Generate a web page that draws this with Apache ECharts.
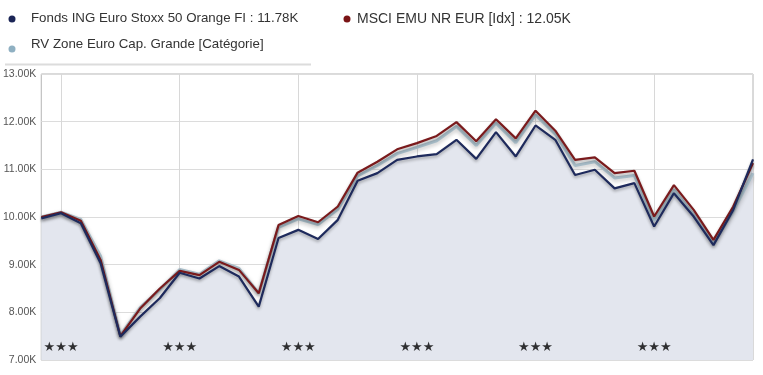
<!DOCTYPE html>
<html><head><meta charset="utf-8">
<script src="https://cdn.jsdelivr.net/npm/echarts@6/dist/echarts.min.js"></script>
<style>html,body{margin:0;padding:0;background:#fff}#c{width:763px;height:375px}</style>
</head><body><div id="c"></div>
<script>
var categories = ['P01','P02','P03','P04','P05','P06','P07','P08','P09','P10','P11','P12','P13','P14','P15','P16','P17','P18','P19','P20','P21','P22','P23','P24','P25','P26','P27','P28','P29','P30','P31','P32','P33','P34','P35','P36','P37'];
var fundValues = [9.97,10.08,9.87,9.03,7.49,7.91,8.30,8.83,8.71,8.97,8.75,8.12,9.56,9.73,9.54,9.94,10.76,10.92,11.20,11.27,11.32,11.62,11.22,11.78,11.27,11.92,11.62,10.88,10.99,10.60,10.71,9.80,10.50,10.01,9.41,10.15,11.21];
var msciValues = [10.00,10.10,9.92,9.10,7.50,8.08,8.50,8.87,8.78,9.06,8.89,8.40,9.83,10.02,9.89,10.22,10.93,11.16,11.42,11.55,11.70,11.99,11.59,12.05,11.65,12.23,11.81,11.20,11.25,10.92,10.97,10.01,10.67,10.15,9.52,10.22,11.13];
var catValues = [10.00,10.10,9.95,9.18,7.52,8.10,8.48,8.90,8.80,9.08,8.92,8.40,9.78,9.96,9.84,10.16,10.86,11.08,11.33,11.46,11.60,11.90,11.50,11.97,11.56,12.14,11.74,11.08,11.16,10.82,10.87,9.92,10.58,10.05,9.44,10.12,10.92];
var starPositions = [1,7,13,19,25,31];
var starLevel = 7.26;
var yTicks = [7,8,9,10,11,12,13];
var legendFund = 'Fonds ING Euro Stoxx 50 Orange FI : 11.78K';
var legendMsci = 'MSCI EMU NR EUR [Idx] : 12.05K';
var legendCat = 'RV Zone Euro Cap. Grande [Catégorie]';

var chart = echarts.init(document.getElementById('c'), null, {renderer:'canvas'});
var FONT = '"Liberation Sans", Arial, sans-serif';
chart.setOption({
  animation:false,
  backgroundColor:'#fff',
  grid:{left:41,right:10,top:74,bottom:15,show:true,borderColor:'#b4b4b4',borderWidth:1,backgroundColor:'transparent'},
  xAxis:{type:'category',data:categories,boundaryGap:false,
    axisLine:{show:false},axisTick:{show:false},axisLabel:{show:false},
    splitLine:{show:true,interval:function(i){return i%6===1;},lineStyle:{color:'#d8d8d8',width:1}}},
  yAxis:{type:'value',min:yTicks[0],max:yTicks[yTicks.length-1],interval:1,
    axisLine:{show:false},axisTick:{show:false},
    axisLabel:{margin:5,fontSize:10.5,color:'#555',fontFamily:FONT,formatter:function(v){return v.toFixed(2)+'K';}},
    splitLine:{lineStyle:{color:'#dcdcdc',width:1}}},
  graphic:[
    {type:'circle',shape:{cx:12,cy:19,r:3.5},style:{fill:'#1b2556'}},
    {type:'text',left:31,top:12,style:{text:legendFund,font:'13.3px '+FONT,fill:'#333'}},
    {type:'circle',shape:{cx:347,cy:19,r:3.5},style:{fill:'#7a1416'}},
    {type:'text',left:357,top:12,style:{text:legendMsci,font:'14px '+FONT,fill:'#333'}},
    {type:'circle',shape:{cx:12,cy:49,r:3.5},style:{fill:'#8fb0c2'}},
    {type:'text',left:31,top:38,style:{text:legendCat,font:'13.3px '+FONT,fill:'#333'}},
    {type:'line',shape:{x1:5,y1:64.5,x2:311,y2:64.5},style:{stroke:'#dcdcdc',lineWidth:2}}
  ],
  series:[
    {name:'area',type:'line',data:fundValues,symbol:'none',silent:true,z:1,
      lineStyle:{width:0},areaStyle:{color:'#e3e6ee',opacity:1}},
    {name:legendCat,type:'line',data:catValues,symbol:'none',z:2,
      lineStyle:{color:'#a7bcc7',width:3,shadowColor:'rgba(0,0,0,0.25)',shadowBlur:4,shadowOffsetY:2}},
    {name:legendMsci,type:'line',data:msciValues,symbol:'none',z:3,
      lineStyle:{color:'#7a1a1c',width:2.2,shadowColor:'rgba(0,0,0,0.3)',shadowBlur:3,shadowOffsetY:2}},
    {name:legendFund,type:'line',data:fundValues,symbol:'none',z:4,
      lineStyle:{color:'#1e2a5c',width:2.2,shadowColor:'rgba(0,0,0,0.3)',shadowBlur:3,shadowOffsetY:2}},
    {name:'stars',type:'scatter',z:5,symbolSize:0,silent:true,
      data:starPositions.map(function(i){return [i,starLevel];}),
      label:{show:true,position:'inside',formatter:'★★★',fontSize:13,color:'#000',fontFamily:'"DejaVu Sans", sans-serif'}}
  ]
});
</script></body></html>
